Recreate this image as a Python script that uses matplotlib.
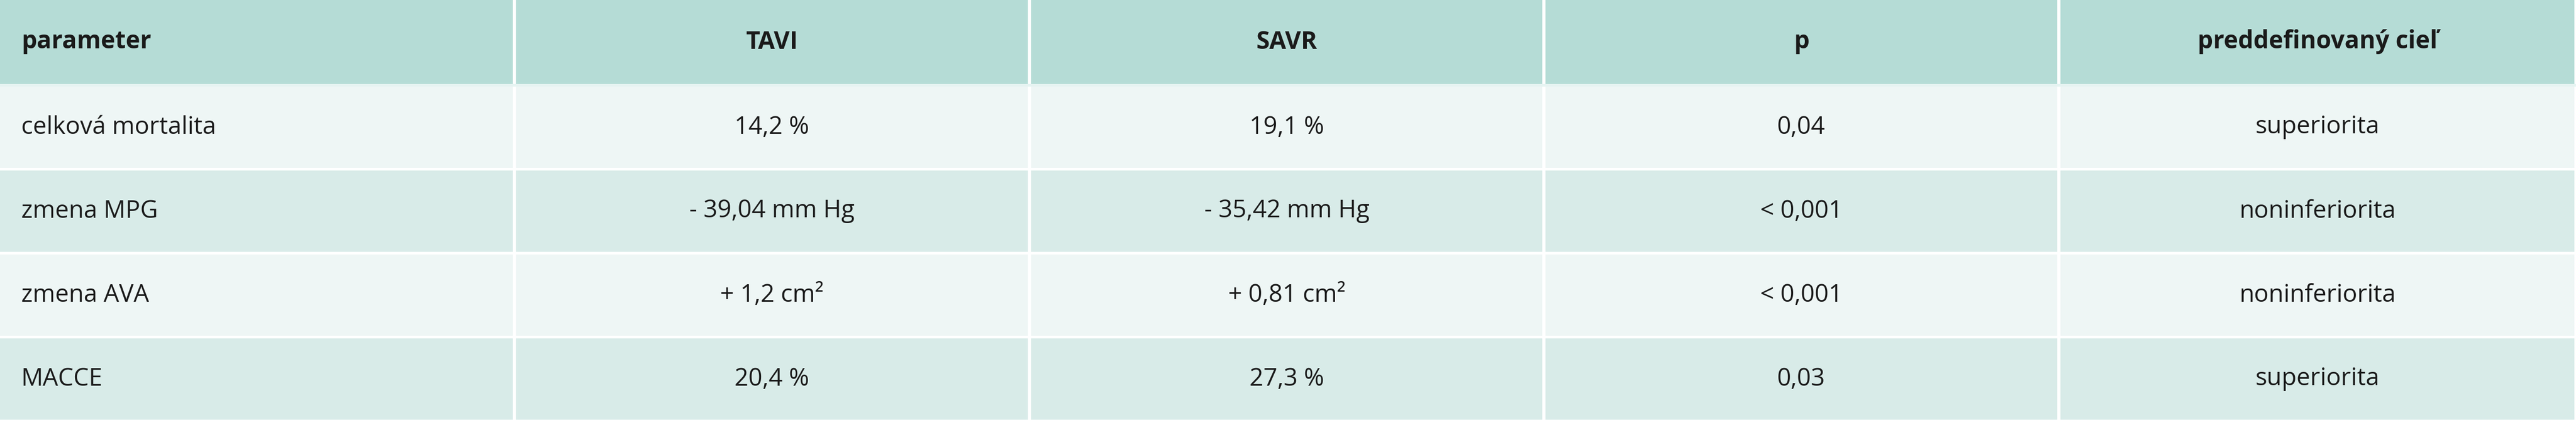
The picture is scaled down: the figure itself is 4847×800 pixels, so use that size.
import matplotlib
matplotlib.use("Agg")
import matplotlib.pyplot as plt
from matplotlib.patches import Rectangle

headers = ["parameter", "TAVI", "SAVR", "p", "preddefinovaný cieľ"]
params = ["celková mortalita", "zmena MPG", "zmena AVA", "MACCE"]
tavi = ["14,2 %", "- 39,04 mm Hg", "+ 1,2 cm²", "20,4 %"]
savr = ["19,1 %", "- 35,42 mm Hg", "+ 0,81 cm²", "27,3 %"]
pvals = ["0,04", "< 0,001", "< 0,001", "0,03"]
goals = ["superiorita", "noninferiorita", "noninferiorita", "superiorita"]

W, H = 4847, 800
fig = plt.figure(figsize=(W/100, H/100), dpi=100)
ax = fig.add_axes([0, 0, 1, 1])
ax.set_xlim(0, W); ax.set_ylim(H, 0); ax.axis("off")

colx = [0, 968, 1937, 2905, 3874, W]
rowh = 158
gap = 5
rows = [headers] + [list(r) for r in zip(params, tavi, savr, pvals, goals)]
fills = ["#b5dcd6", "#eef6f5", "#d8ebe8", "#eef6f5", "#d8ebe8"]
fam = ["Open Sans", "DejaVu Sans"]
for i, row in enumerate(rows):
    y0 = i * rowh + (gap if i > 0 else 0)
    h = rowh - (gap if i > 0 else 0)
    for j, txt in enumerate(row):
        x0 = colx[j] + (3 if j > 0 else 0)
        ax.add_patch(Rectangle((x0, y0), colx[j+1] - x0 - 3, h, color=fills[i], lw=0))
        yc = y0 + h / 2
        kw = dict(fontsize=33, family=fam, color="#1a1a1a", va="center",
                  fontweight="bold" if i == 0 else "normal")
        if j == 0:
            ax.text(colx[0] + 40, yc, txt, ha="left", **kw)
        else:
            ax.text((colx[j] + colx[j+1]) / 2, yc, txt, ha="center", **kw)
    if i == 0:
        ax.add_patch(Rectangle((0, rowh), W, gap, color="#e6f4f2", lw=0))
fig.savefig("out.png", dpi=100, facecolor="white")
